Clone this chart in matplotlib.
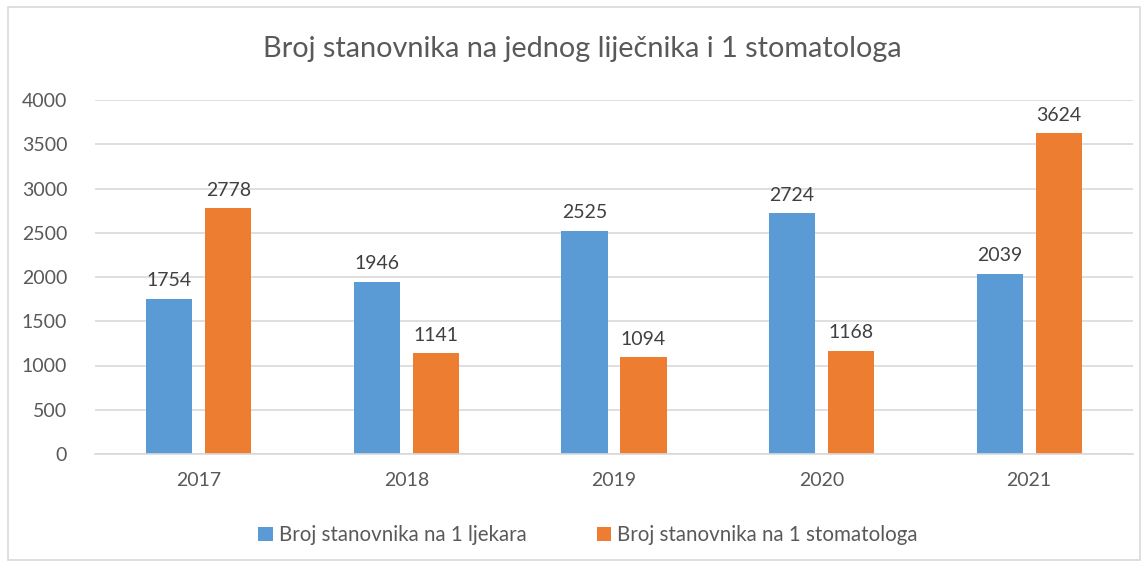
import matplotlib.pyplot as plt
import numpy as np
from matplotlib.patches import Rectangle

years = ['2017', '2018', '2019', '2020', '2021']
lijecnik = [1754, 1946, 2525, 2724, 2039]
stomatolog = [2778, 1141, 1094, 1168, 3624]
legend_labels = ['Broj stanovnika na 1 ljekara', 'Broj stanovnika na 1 stomatologa']
title = 'Broj stanovnika na jednog liječnika i 1 stomatologa'

plt.rcParams['font.family'] = ['Lato', 'DejaVu Sans']
txt = '#595959'

fig = plt.figure(figsize=(11.44, 5.65), dpi=100)
fig.patches.append(Rectangle((8 / 1144, 5 / 565), 1132 / 1144, 553 / 565,
                             transform=fig.transFigure, fill=False,
                             edgecolor='#d9d9d9', linewidth=1.2))

# plot area in pixels: x 95..1133, y 100..454
ax = fig.add_axes([95 / 1144, 1 - 454 / 565, 1038 / 1144, 354 / 565])

x = np.arange(len(years))
w = 0.222
off = 0.142
b1 = ax.bar(x - off, lijecnik, w, color='#5B9BD5', label=legend_labels[0])
b2 = ax.bar(x + off, stomatolog, w, color='#ED7D31', label=legend_labels[1])

for bars in (b1, b2):
    for b in bars:
        ax.text(b.get_x() + b.get_width() / 2, b.get_height() + 105,
                str(int(b.get_height())), ha='center', va='bottom',
                fontsize=14, color='#404040')

ax.set_xlim(-0.5, len(years) - 0.5)
ax.set_ylim(0, 4000)
ax.set_yticks(range(0, 4001, 500))
ax.set_xticks(x)
ax.set_xticklabels(years)
ax.grid(axis='y', color='#d9d9d9', linewidth=1.2)
ax.set_axisbelow(True)
for s in ['top', 'right', 'left']:
    ax.spines[s].set_visible(False)
ax.spines['bottom'].set_color('#d9d9d9')
ax.spines['bottom'].set_linewidth(1.2)
ax.tick_params(axis='both', length=0, labelsize=14, labelcolor=txt)
ax.tick_params(axis='x', pad=13)
ax.tick_params(axis='y', pad=20)

fig.text(0.509, 1 - 49 / 565, title, ha='center', va='center',
         fontsize=20.8, color=txt)

fig.legend(loc='center', bbox_to_anchor=(0.514, 1 - 535 / 565), ncol=2,
           frameon=False, fontsize=14.8, labelcolor=txt, handlelength=0.7,
           handleheight=0.7, handletextpad=0.3, columnspacing=3.4)

fig.savefig('out.png', dpi=100)
